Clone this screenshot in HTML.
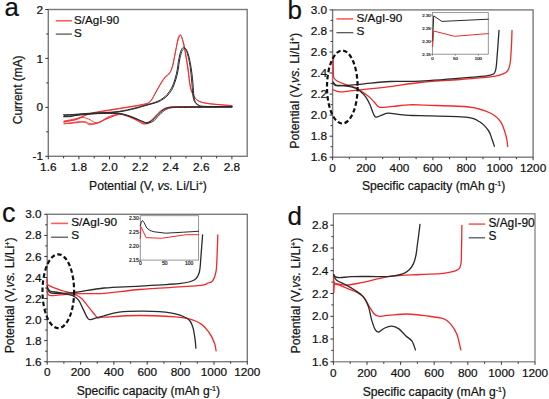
<!DOCTYPE html>
<html><head><meta charset="utf-8"><style>
html,body{margin:0;padding:0;background:#fff;width:549px;height:399px;overflow:hidden}
svg{display:block}
text{font-family:"Liberation Sans", sans-serif;fill:#111;stroke:#111;stroke-width:0.22px}
</style></head><body>
<svg width="549" height="399" viewBox="0 0 549 399">
<rect width="549" height="399" fill="#fff"/>
<rect x="48.3" y="9.5" width="198.9" height="146.8" fill="none" stroke="#7a7a7a" stroke-width="1.4"/>
<line x1="48.3" y1="156.3" x2="48.3" y2="159.3" stroke="#333" stroke-width="1"/>
<line x1="78.9" y1="156.3" x2="78.9" y2="159.3" stroke="#333" stroke-width="1"/>
<line x1="109.5" y1="156.3" x2="109.5" y2="159.3" stroke="#333" stroke-width="1"/>
<line x1="140.1" y1="156.3" x2="140.1" y2="159.3" stroke="#333" stroke-width="1"/>
<line x1="170.7" y1="156.3" x2="170.7" y2="159.3" stroke="#333" stroke-width="1"/>
<line x1="201.3" y1="156.3" x2="201.3" y2="159.3" stroke="#333" stroke-width="1"/>
<line x1="231.9" y1="156.3" x2="231.9" y2="159.3" stroke="#333" stroke-width="1"/>
<line x1="63.6" y1="156.3" x2="63.6" y2="158.3" stroke="#333" stroke-width="1"/>
<line x1="94.2" y1="156.3" x2="94.2" y2="158.3" stroke="#333" stroke-width="1"/>
<line x1="124.8" y1="156.3" x2="124.8" y2="158.3" stroke="#333" stroke-width="1"/>
<line x1="155.4" y1="156.3" x2="155.4" y2="158.3" stroke="#333" stroke-width="1"/>
<line x1="186.0" y1="156.3" x2="186.0" y2="158.3" stroke="#333" stroke-width="1"/>
<line x1="216.6" y1="156.3" x2="216.6" y2="158.3" stroke="#333" stroke-width="1"/>
<text x="48.30" y="170.80" font-size="11.8" text-anchor="middle" >1.6</text>
<text x="78.90" y="170.80" font-size="11.8" text-anchor="middle" >1.8</text>
<text x="109.50" y="170.80" font-size="11.8" text-anchor="middle" >2.0</text>
<text x="140.10" y="170.80" font-size="11.8" text-anchor="middle" >2.2</text>
<text x="170.70" y="170.80" font-size="11.8" text-anchor="middle" >2.4</text>
<text x="201.30" y="170.80" font-size="11.8" text-anchor="middle" >2.6</text>
<text x="231.90" y="170.80" font-size="11.8" text-anchor="middle" >2.8</text>
<line x1="45.3" y1="156.3" x2="48.3" y2="156.3" stroke="#333" stroke-width="1"/>
<line x1="45.3" y1="107.4" x2="48.3" y2="107.4" stroke="#333" stroke-width="1"/>
<line x1="45.3" y1="58.4" x2="48.3" y2="58.4" stroke="#333" stroke-width="1"/>
<line x1="45.3" y1="9.5" x2="48.3" y2="9.5" stroke="#333" stroke-width="1"/>
<line x1="46.3" y1="131.8" x2="48.3" y2="131.8" stroke="#333" stroke-width="1"/>
<line x1="46.3" y1="82.9" x2="48.3" y2="82.9" stroke="#333" stroke-width="1"/>
<line x1="46.3" y1="34.0" x2="48.3" y2="34.0" stroke="#333" stroke-width="1"/>
<text x="43.10" y="160.40" font-size="11.8" text-anchor="end" >-1</text>
<text x="43.10" y="111.47" font-size="11.8" text-anchor="end" >0</text>
<text x="43.10" y="62.53" font-size="11.8" text-anchor="end" >1</text>
<text x="43.10" y="13.60" font-size="11.8" text-anchor="end" >2</text>
<text x="148.00" y="189.80" font-size="12.15" text-anchor="middle" >Potential (V, <tspan font-style='italic'>vs.</tspan> Li/Li<tspan font-size="7.2" dy="-3.6">+</tspan><tspan dy="3.6">)</tspan></text>
<text x="0" y="0" font-size="11.9" text-anchor="middle" transform="translate(21.6,89.8) rotate(-90)">Current (mA)</text>
<text x="4.60" y="16.00" font-size="25.8" text-anchor="start" >a</text>
<line x1="55.8" y1="20.8" x2="71.9" y2="20.8" stroke="#ff5c5c" stroke-width="1.6"/>
<line x1="55.8" y1="34.1" x2="71.9" y2="34.1" stroke="#4a4a4a" stroke-width="1.2"/>
<text x="74.00" y="23.60" font-size="11.6" text-anchor="start" >S/AgI-90</text>
<text x="74.00" y="37.20" font-size="11.6" text-anchor="start" >S</text>
<path d="M64.0,122.0 C65.3,121.7 69.3,121.0 72.0,120.3 C74.7,119.6 76.8,119.1 79.9,118.0 C83.0,116.9 85.0,115.1 90.8,113.7 C96.6,112.3 108.5,110.6 115.0,109.5 C121.5,108.4 125.7,107.7 130.0,107.0 C134.3,106.3 138.2,105.8 141.0,105.3 C143.8,104.8 145.1,104.6 146.8,103.8 C148.5,103.0 149.8,102.3 151.3,100.4 C152.8,98.5 154.3,95.1 155.8,92.5 C157.3,89.9 158.8,87.1 160.3,84.7 C161.8,82.3 163.5,79.5 164.8,77.9 C166.1,76.3 167.3,76.1 168.2,75.1 C169.1,74.1 169.6,73.5 170.3,72.0 C171.0,70.5 171.8,68.8 172.5,66.4 C173.2,64.0 173.8,60.7 174.4,57.6 C175.0,54.5 175.7,50.9 176.3,47.6 C176.9,44.3 177.6,40.2 178.2,38.0 C178.8,35.8 179.5,34.6 180.1,34.6 C180.7,34.6 181.3,36.0 182.0,38.0 C182.7,40.0 183.7,43.0 184.4,46.3 C185.1,49.6 185.7,53.8 186.3,57.6 C186.9,61.4 187.6,65.0 188.2,68.9 C188.8,72.9 189.1,77.7 189.6,81.3 C190.1,84.9 190.5,87.6 191.3,90.3 C192.1,93.0 193.3,95.4 194.6,97.3 C195.9,99.2 196.8,100.3 199.1,101.4 C201.4,102.5 205.2,103.2 208.2,103.7 C211.2,104.2 213.4,104.2 217.3,104.6 C221.2,105.0 229.5,105.7 231.9,105.9" fill="none" stroke="#f2282a" stroke-width="0.9" stroke-linejoin="round" stroke-linecap="round" />
<path d="M64.0,121.0 C66.4,120.5 73.7,119.4 78.2,118.1 C82.7,116.8 84.7,114.7 90.8,113.2 C96.9,111.7 108.5,110.1 115.0,109.0 C121.5,107.9 124.7,107.5 130.0,106.6 C135.3,105.7 143.2,104.5 146.8,103.4 C150.4,102.3 149.8,101.9 151.3,100.0 C152.8,98.1 154.3,94.7 155.8,92.0 C157.3,89.3 158.8,86.5 160.3,84.0 C161.8,81.5 163.4,78.9 164.8,77.2 C166.2,75.5 167.5,75.1 168.5,74.0 C169.5,72.9 170.2,72.2 171.0,70.5 C171.8,68.8 172.3,66.8 173.0,64.0 C173.7,61.2 174.2,57.7 175.0,54.0 C175.8,50.3 176.7,45.0 177.5,42.0 C178.3,39.0 179.0,36.9 179.7,36.0 C180.4,35.1 180.9,35.2 181.5,36.5 C182.1,37.8 182.8,40.8 183.5,44.0 C184.2,47.2 185.1,51.8 185.8,56.0 C186.5,60.2 187.2,64.8 187.8,69.0 C188.4,73.2 188.8,77.5 189.3,81.0 C189.8,84.5 190.2,87.4 191.0,90.0 C191.8,92.6 193.0,95.0 194.3,96.8 C195.6,98.6 196.7,99.9 199.0,101.0 C201.3,102.1 202.7,102.6 208.2,103.4 C213.7,104.2 227.9,105.2 231.9,105.6" fill="none" stroke="#f2282a" stroke-width="0.9" stroke-linejoin="round" stroke-linecap="round" />
<path d="M231.9,106.5 C226.6,106.5 208.7,106.6 200.0,106.6 C191.3,106.6 184.7,106.7 180.0,106.7 C175.3,106.8 174.2,106.8 172.0,106.9 C169.8,107.1 168.4,107.2 167.0,107.6 C165.6,107.9 164.7,108.3 163.5,109.0 C162.3,109.7 161.4,110.2 160.0,111.5 C158.6,112.8 156.7,114.8 155.0,116.5 C153.3,118.2 151.5,120.3 150.0,121.5 C148.5,122.7 147.2,123.2 146.0,123.5 C144.8,123.8 144.8,124.0 143.0,123.2 C141.2,122.5 138.0,120.4 135.0,119.0 C132.0,117.6 127.8,115.8 125.0,115.0 C122.2,114.2 120.8,114.0 118.0,114.3 C115.2,114.6 111.0,115.7 108.0,117.0 C105.0,118.3 102.2,121.1 100.0,122.0 C97.8,122.9 96.9,123.0 95.0,122.5 C93.1,122.0 90.7,119.8 88.5,119.0 C86.3,118.2 84.2,117.3 82.0,117.5 C79.8,117.7 78.0,119.3 75.0,120.0 C72.0,120.7 65.8,121.2 64.0,121.5" fill="none" stroke="#f2282a" stroke-width="0.9" stroke-linejoin="round" stroke-linecap="round" />
<path d="M231.9,106.5 C226.6,106.5 208.7,106.5 200.0,106.6 C191.3,106.6 184.8,106.7 180.0,106.8 C175.2,106.9 173.3,106.9 171.0,107.1 C168.7,107.3 167.4,107.7 166.0,108.2 C164.6,108.7 163.7,109.3 162.5,110.0 C161.3,110.7 160.4,111.2 159.0,112.5 C157.6,113.8 155.7,116.3 154.0,118.0 C152.3,119.7 150.4,121.8 149.0,122.8 C147.6,123.8 146.7,123.9 145.5,124.0 C144.3,124.1 143.8,124.2 142.0,123.5 C140.2,122.8 137.8,120.8 135.0,119.5 C132.2,118.2 127.8,116.3 125.0,115.5 C122.2,114.7 121.5,113.8 118.0,114.6 C114.5,115.3 107.7,118.5 104.0,120.0 C100.3,121.5 98.5,122.7 96.0,123.5 C93.5,124.3 91.0,124.9 89.2,124.7 C87.5,124.5 87.3,123.0 85.5,122.5 C83.7,122.0 81.8,121.5 78.2,121.8 C74.6,122.0 66.4,123.6 64.0,124.0" fill="none" stroke="#f2282a" stroke-width="0.9" stroke-linejoin="round" stroke-linecap="round" />
<path d="M118.0,114.4 C116.0,115.2 109.3,117.6 106.0,119.0 C102.7,120.4 100.7,122.2 98.0,123.0 C95.3,123.8 92.1,123.9 90.0,123.7 C87.9,123.5 87.5,122.0 85.5,121.8 C83.5,121.6 80.6,122.2 78.0,122.5 C75.4,122.8 72.3,123.4 70.0,123.5 C67.7,123.6 65.0,123.1 64.0,123.0" fill="none" stroke="#f2282a" stroke-width="0.9" stroke-linejoin="round" stroke-linecap="round" />
<path d="M64.0,115.5 C68.5,115.2 82.0,114.2 91.0,113.5 C100.0,112.8 110.7,112.4 118.0,111.5 C125.3,110.6 130.5,109.0 135.0,108.0 C139.5,107.0 142.2,106.0 145.0,105.2 C147.8,104.4 149.8,104.0 152.0,103.3 C154.2,102.6 156.2,102.0 158.0,101.2 C159.8,100.4 161.5,99.3 163.0,98.2 C164.5,97.1 165.7,96.1 167.1,94.4 C168.5,92.7 170.3,90.6 171.6,88.0 C172.9,85.4 174.1,82.0 175.0,79.0 C175.9,76.0 176.6,73.0 177.2,70.0 C177.8,67.0 177.8,64.4 178.4,61.3 C179.0,58.2 179.9,53.6 180.7,51.3 C181.5,49.0 182.4,47.9 183.2,47.4 C184.0,46.9 184.6,47.6 185.3,48.5 C186.0,49.4 186.5,50.6 187.2,53.0 C187.9,55.4 188.9,59.3 189.5,62.6 C190.1,65.9 190.5,69.5 190.9,73.0 C191.3,76.5 191.6,79.7 191.9,83.5 C192.2,87.3 192.6,93.0 193.0,96.0 C193.4,99.0 193.8,100.1 194.5,101.5 C195.2,102.9 195.8,103.8 197.3,104.6 C198.8,105.4 197.9,106.0 203.7,106.3 C209.5,106.6 227.2,106.5 231.9,106.6" fill="none" stroke="#2a2a2a" stroke-width="1.0" stroke-linejoin="round" stroke-linecap="round" />
<path d="M64.0,116.7 C68.5,116.2 82.0,114.8 91.0,114.0 C100.0,113.2 110.7,112.9 118.0,112.0 C125.3,111.1 130.5,109.6 135.0,108.6 C139.5,107.5 142.2,106.5 145.0,105.7 C147.8,104.9 149.8,104.5 152.0,103.8 C154.2,103.1 156.5,102.7 158.5,101.8 C160.5,100.9 162.4,99.7 164.0,98.6 C165.6,97.5 166.6,96.7 168.0,95.0 C169.4,93.3 171.2,91.2 172.5,88.5 C173.8,85.8 175.0,82.2 176.0,79.0 C177.0,75.8 177.7,72.2 178.3,69.0 C178.9,65.8 179.0,62.9 179.6,60.0 C180.2,57.1 181.0,53.4 181.8,51.5 C182.6,49.6 183.5,48.8 184.3,48.5 C185.1,48.2 185.8,48.9 186.5,50.0 C187.2,51.1 187.8,52.7 188.5,55.0 C189.2,57.3 189.9,60.8 190.5,64.0 C191.1,67.2 191.6,70.7 192.0,74.0 C192.4,77.3 192.7,80.2 193.0,84.0 C193.3,87.8 193.6,93.5 194.0,96.5 C194.4,99.5 194.8,100.8 195.5,102.2 C196.2,103.6 197.1,104.3 198.5,105.0 C199.9,105.7 198.4,106.3 204.0,106.6 C209.6,106.9 227.2,106.8 231.9,106.8" fill="none" stroke="#2a2a2a" stroke-width="1.0" stroke-linejoin="round" stroke-linecap="round" />
<path d="M231.9,106.8 C226.6,106.8 208.7,106.9 200.0,106.9 C191.3,106.9 184.7,107.0 180.0,107.0 C175.3,107.0 174.1,107.0 172.0,107.2 C169.9,107.4 168.9,107.5 167.5,107.9 C166.1,108.3 164.8,109.0 163.5,109.8 C162.2,110.6 161.2,111.6 160.0,112.6 C158.8,113.6 157.7,114.8 156.5,116.0 C155.3,117.2 154.6,118.7 153.0,119.8 C151.4,120.9 148.7,122.2 147.0,122.5 C145.3,122.8 145.0,122.2 143.0,121.5 C141.0,120.8 138.0,119.2 135.0,118.0 C132.0,116.8 128.3,115.3 125.0,114.5 C121.7,113.7 120.7,113.2 115.0,113.0 C109.3,112.8 98.3,112.9 91.0,113.2 C83.7,113.5 75.5,114.4 70.9,114.6 C66.3,114.8 64.8,114.5 63.6,114.5" fill="none" stroke="#2a2a2a" stroke-width="1.0" stroke-linejoin="round" stroke-linecap="round" />
<path d="M231.9,107.2 C226.6,107.2 208.7,107.3 200.0,107.3 C191.3,107.3 184.5,107.4 180.0,107.4 C175.5,107.5 174.9,107.4 173.0,107.6 C171.1,107.8 169.9,107.9 168.5,108.4 C167.1,108.9 165.8,109.6 164.5,110.4 C163.2,111.2 162.2,112.2 161.0,113.3 C159.8,114.4 158.7,115.6 157.5,116.8 C156.3,118.0 155.6,119.6 154.0,120.7 C152.4,121.8 149.8,123.0 148.0,123.2 C146.2,123.5 145.7,123.0 143.5,122.2 C141.3,121.4 138.1,119.8 135.0,118.6 C131.9,117.4 128.3,115.8 125.0,115.0 C121.7,114.2 120.7,113.7 115.0,113.5 C109.3,113.3 97.2,113.6 91.0,113.8 C84.8,114.0 81.3,114.3 78.0,114.8 C74.7,115.3 73.3,116.3 70.9,116.6 C68.5,116.9 64.8,116.7 63.6,116.7" fill="none" stroke="#2a2a2a" stroke-width="1.0" stroke-linejoin="round" stroke-linecap="round" />
<rect x="332.6" y="9.9" width="200.5" height="147.3" fill="none" stroke="#7a7a7a" stroke-width="1.4"/>
<line x1="332.6" y1="157.2" x2="332.6" y2="160.2" stroke="#333" stroke-width="1"/>
<line x1="366.0" y1="157.2" x2="366.0" y2="160.2" stroke="#333" stroke-width="1"/>
<line x1="399.4" y1="157.2" x2="399.4" y2="160.2" stroke="#333" stroke-width="1"/>
<line x1="432.9" y1="157.2" x2="432.9" y2="160.2" stroke="#333" stroke-width="1"/>
<line x1="466.3" y1="157.2" x2="466.3" y2="160.2" stroke="#333" stroke-width="1"/>
<line x1="499.7" y1="157.2" x2="499.7" y2="160.2" stroke="#333" stroke-width="1"/>
<line x1="533.1" y1="157.2" x2="533.1" y2="160.2" stroke="#333" stroke-width="1"/>
<line x1="349.3" y1="157.2" x2="349.3" y2="159.2" stroke="#333" stroke-width="1"/>
<line x1="382.7" y1="157.2" x2="382.7" y2="159.2" stroke="#333" stroke-width="1"/>
<line x1="416.1" y1="157.2" x2="416.1" y2="159.2" stroke="#333" stroke-width="1"/>
<line x1="449.6" y1="157.2" x2="449.6" y2="159.2" stroke="#333" stroke-width="1"/>
<line x1="483.0" y1="157.2" x2="483.0" y2="159.2" stroke="#333" stroke-width="1"/>
<line x1="516.4" y1="157.2" x2="516.4" y2="159.2" stroke="#333" stroke-width="1"/>
<text x="332.60" y="171.60" font-size="11.8" text-anchor="middle" >0</text>
<text x="366.02" y="171.60" font-size="11.8" text-anchor="middle" >200</text>
<text x="399.43" y="171.60" font-size="11.8" text-anchor="middle" >400</text>
<text x="432.85" y="171.60" font-size="11.8" text-anchor="middle" >600</text>
<text x="466.27" y="171.60" font-size="11.8" text-anchor="middle" >800</text>
<text x="499.68" y="171.60" font-size="11.8" text-anchor="middle" >1000</text>
<text x="533.10" y="171.60" font-size="11.8" text-anchor="middle" >1200</text>
<line x1="329.6" y1="157.2" x2="332.6" y2="157.2" stroke="#333" stroke-width="1"/>
<line x1="329.6" y1="136.2" x2="332.6" y2="136.2" stroke="#333" stroke-width="1"/>
<line x1="329.6" y1="115.1" x2="332.6" y2="115.1" stroke="#333" stroke-width="1"/>
<line x1="329.6" y1="94.1" x2="332.6" y2="94.1" stroke="#333" stroke-width="1"/>
<line x1="329.6" y1="73.0" x2="332.6" y2="73.0" stroke="#333" stroke-width="1"/>
<line x1="329.6" y1="52.0" x2="332.6" y2="52.0" stroke="#333" stroke-width="1"/>
<line x1="329.6" y1="30.9" x2="332.6" y2="30.9" stroke="#333" stroke-width="1"/>
<line x1="329.6" y1="9.9" x2="332.6" y2="9.9" stroke="#333" stroke-width="1"/>
<line x1="330.6" y1="146.7" x2="332.6" y2="146.7" stroke="#333" stroke-width="1"/>
<line x1="330.6" y1="125.6" x2="332.6" y2="125.6" stroke="#333" stroke-width="1"/>
<line x1="330.6" y1="104.6" x2="332.6" y2="104.6" stroke="#333" stroke-width="1"/>
<line x1="330.6" y1="83.6" x2="332.6" y2="83.6" stroke="#333" stroke-width="1"/>
<line x1="330.6" y1="62.5" x2="332.6" y2="62.5" stroke="#333" stroke-width="1"/>
<line x1="330.6" y1="41.5" x2="332.6" y2="41.5" stroke="#333" stroke-width="1"/>
<line x1="330.6" y1="20.4" x2="332.6" y2="20.4" stroke="#333" stroke-width="1"/>
<text x="327.20" y="161.30" font-size="11.8" text-anchor="end" >1.6</text>
<text x="327.20" y="140.26" font-size="11.8" text-anchor="end" >1.8</text>
<text x="327.20" y="119.21" font-size="11.8" text-anchor="end" >2.0</text>
<text x="327.20" y="98.17" font-size="11.8" text-anchor="end" >2.2</text>
<text x="327.20" y="77.13" font-size="11.8" text-anchor="end" >2.4</text>
<text x="327.20" y="56.09" font-size="11.8" text-anchor="end" >2.6</text>
<text x="327.20" y="35.04" font-size="11.8" text-anchor="end" >2.8</text>
<text x="327.20" y="14.00" font-size="11.8" text-anchor="end" >3.0</text>
<text x="433.60" y="189.80" font-size="12.15" text-anchor="middle" >Specific capacity (mAh g<tspan font-size="7.2" dy="-3.6">-1</tspan><tspan dy="3.6">)</tspan></text>
<text x="0" y="0" font-size="12.3" text-anchor="middle" transform="translate(298.9,90.8) rotate(-90)">Potential (V,<tspan font-style='italic'>vs.</tspan> Li/Li<tspan font-size="7.2" dy="-3.6">+</tspan><tspan dy="3.6">)</tspan></text>
<text x="287.50" y="18.80" font-size="26" text-anchor="start" >b</text>
<line x1="336.4" y1="18.900000000000002" x2="353.3" y2="18.900000000000002" stroke="#ff5c5c" stroke-width="1.6"/>
<line x1="336.4" y1="32.7" x2="353.3" y2="32.7" stroke="#4a4a4a" stroke-width="1.2"/>
<text x="356.40" y="21.70" font-size="11.8" text-anchor="start" >S/AgI-90</text>
<text x="356.40" y="35.40" font-size="11.8" text-anchor="start" >S</text>
<path d="M333.0,89.6 C333.5,89.8 334.8,90.6 336.0,91.0 C337.2,91.4 338.2,91.8 340.5,91.8 C342.8,91.8 346.8,91.2 350.0,90.9 C353.2,90.6 353.3,90.6 360.0,89.9 C366.7,89.2 380.0,87.8 390.0,86.6 C400.0,85.4 408.3,83.7 420.0,82.5 C431.7,81.3 448.3,80.5 460.0,79.5 C471.7,78.5 483.5,77.5 490.2,76.8 C496.9,76.0 497.4,75.7 500.0,75.0 C502.6,74.3 504.5,73.8 506.0,72.6 C507.5,71.4 508.2,70.1 509.0,68.0 C509.8,65.9 510.1,63.8 510.5,60.0 C510.9,56.2 511.2,49.9 511.5,45.0 C511.8,40.1 511.9,32.9 512.0,30.5" fill="none" stroke="#f2282a" stroke-width="1.3" stroke-linejoin="round" stroke-linecap="round" />
<path d="M333.2,58.0 C333.2,60.0 333.2,66.7 333.3,70.0 C333.4,73.3 333.1,75.7 333.8,77.6 C334.5,79.5 335.6,80.2 337.5,81.3 C339.4,82.4 342.5,83.4 345.0,84.3 C347.5,85.2 350.1,85.6 352.6,86.6 C355.1,87.6 357.3,88.6 360.0,90.3 C362.7,92.0 366.3,94.6 368.7,96.6 C371.1,98.5 372.4,100.2 374.2,102.0 C376.0,103.8 376.6,106.6 379.7,107.3 C382.8,108.0 387.9,106.8 392.8,106.4 C397.7,106.0 403.8,105.0 409.2,104.8 C414.6,104.6 415.3,104.8 425.3,105.2 C435.3,105.6 458.3,105.7 469.1,107.0 C479.9,108.3 484.9,110.5 490.2,113.0 C495.5,115.5 498.1,118.0 500.7,121.8 C503.3,125.6 504.8,131.7 506.0,135.8 C507.2,139.9 507.4,144.6 507.7,146.3" fill="none" stroke="#f2282a" stroke-width="1.3" stroke-linejoin="round" stroke-linecap="round" />
<path d="M333.0,83.0 C333.3,83.4 334.0,84.7 335.0,85.2 C336.0,85.7 334.8,86.0 339.0,85.8 C343.2,85.6 351.5,85.0 360.0,84.3 C368.5,83.6 380.0,82.0 390.0,81.5 C400.0,81.0 406.2,81.9 420.0,81.2 C433.8,80.5 460.9,78.2 472.6,77.2 C484.3,76.2 486.4,76.1 490.2,75.1 C494.0,74.0 494.2,74.2 495.4,70.9 C496.6,67.6 496.6,61.8 497.2,55.1 C497.8,48.4 498.7,34.6 499.0,30.5" fill="none" stroke="#2a2a2a" stroke-width="1.3" stroke-linejoin="round" stroke-linecap="round" />
<path d="M333.0,82.0 C333.5,82.5 334.0,84.4 336.0,85.0 C338.0,85.6 341.7,85.3 345.0,85.8 C348.3,86.3 353.1,87.2 355.6,88.1 C358.1,89.0 358.4,89.7 360.0,91.1 C361.6,92.5 363.9,94.4 365.5,96.6 C367.1,98.8 368.5,101.5 369.8,104.2 C371.1,106.9 372.1,110.8 373.1,113.0 C374.1,115.2 374.3,116.8 375.8,117.1 C377.3,117.4 379.8,115.8 381.9,115.1 C384.0,114.4 385.7,113.3 388.4,113.2 C391.1,113.1 394.8,113.9 398.3,114.3 C401.8,114.7 405.6,115.2 409.2,115.4 C412.8,115.6 410.6,115.4 420.0,115.7 C429.4,116.0 455.7,116.2 465.6,117.2 C475.5,118.2 475.8,119.6 479.6,121.8 C483.4,124.0 486.3,127.6 488.4,130.5 C490.5,133.4 491.0,136.7 492.0,139.3 C493.0,141.9 494.0,145.1 494.4,146.3" fill="none" stroke="#2a2a2a" stroke-width="1.3" stroke-linejoin="round" stroke-linecap="round" />
<ellipse cx="342.3" cy="87" rx="15.3" ry="36.5" fill="none" stroke="#111" stroke-width="2.2" stroke-dasharray="4.5,2.6"/>
<rect x="432.4" y="12.6" width="55.9" height="41.6" fill="#fff" stroke="#8a8a8a" stroke-width="0.9"/>
<line x1="430.9" y1="54.2" x2="432.4" y2="54.2" stroke="#555" stroke-width="0.6"/>
<text x="430.80" y="55.70" font-size="4.4" text-anchor="end" style="stroke:#222;stroke-width:0.2px;fill:#222">2.15</text>
<line x1="430.9" y1="41.2" x2="432.4" y2="41.2" stroke="#555" stroke-width="0.6"/>
<text x="430.80" y="42.70" font-size="4.4" text-anchor="end" style="stroke:#222;stroke-width:0.2px;fill:#222">2.20</text>
<line x1="430.9" y1="28.2" x2="432.4" y2="28.2" stroke="#555" stroke-width="0.6"/>
<text x="430.80" y="29.70" font-size="4.4" text-anchor="end" style="stroke:#222;stroke-width:0.2px;fill:#222">2.25</text>
<line x1="430.9" y1="15.2" x2="432.4" y2="15.2" stroke="#555" stroke-width="0.6"/>
<text x="430.80" y="16.70" font-size="4.4" text-anchor="end" style="stroke:#222;stroke-width:0.2px;fill:#222">2.30</text>
<line x1="432.4" y1="54.2" x2="432.4" y2="55.7" stroke="#555" stroke-width="0.6"/>
<text x="432.40" y="59.60" font-size="4.4" text-anchor="middle" style="stroke:#222;stroke-width:0.2px;fill:#222">0</text>
<line x1="455.4" y1="54.2" x2="455.4" y2="55.7" stroke="#555" stroke-width="0.6"/>
<text x="455.39" y="59.60" font-size="4.4" text-anchor="middle" style="stroke:#222;stroke-width:0.2px;fill:#222">50</text>
<line x1="478.4" y1="54.2" x2="478.4" y2="55.7" stroke="#555" stroke-width="0.6"/>
<text x="478.37" y="59.60" font-size="4.4" text-anchor="middle" style="stroke:#222;stroke-width:0.2px;fill:#222">100</text>
<path d="M432.6,41.0 L433.7,15.9 L441.9,21.4 L488.3,19.2" fill="none" stroke="#2a2a2a" stroke-width="1.0" stroke-linejoin="round" stroke-linecap="round" />
<path d="M432.6,46.5 L433.7,31.0 L454.6,36.3 L488.3,33.6" fill="none" stroke="#f2282a" stroke-width="1.0" stroke-linejoin="round" stroke-linecap="round" />
<rect x="47.2" y="214.3" width="200.1" height="147.4" fill="none" stroke="#7a7a7a" stroke-width="1.4"/>
<line x1="47.2" y1="361.7" x2="47.2" y2="364.7" stroke="#333" stroke-width="1"/>
<line x1="80.6" y1="361.7" x2="80.6" y2="364.7" stroke="#333" stroke-width="1"/>
<line x1="113.9" y1="361.7" x2="113.9" y2="364.7" stroke="#333" stroke-width="1"/>
<line x1="147.2" y1="361.7" x2="147.2" y2="364.7" stroke="#333" stroke-width="1"/>
<line x1="180.6" y1="361.7" x2="180.6" y2="364.7" stroke="#333" stroke-width="1"/>
<line x1="214.0" y1="361.7" x2="214.0" y2="364.7" stroke="#333" stroke-width="1"/>
<line x1="247.3" y1="361.7" x2="247.3" y2="364.7" stroke="#333" stroke-width="1"/>
<line x1="63.9" y1="361.7" x2="63.9" y2="363.7" stroke="#333" stroke-width="1"/>
<line x1="97.2" y1="361.7" x2="97.2" y2="363.7" stroke="#333" stroke-width="1"/>
<line x1="130.6" y1="361.7" x2="130.6" y2="363.7" stroke="#333" stroke-width="1"/>
<line x1="163.9" y1="361.7" x2="163.9" y2="363.7" stroke="#333" stroke-width="1"/>
<line x1="197.3" y1="361.7" x2="197.3" y2="363.7" stroke="#333" stroke-width="1"/>
<line x1="230.6" y1="361.7" x2="230.6" y2="363.7" stroke="#333" stroke-width="1"/>
<text x="47.20" y="376.20" font-size="11.8" text-anchor="middle" >0</text>
<text x="80.55" y="376.20" font-size="11.8" text-anchor="middle" >200</text>
<text x="113.90" y="376.20" font-size="11.8" text-anchor="middle" >400</text>
<text x="147.25" y="376.20" font-size="11.8" text-anchor="middle" >600</text>
<text x="180.60" y="376.20" font-size="11.8" text-anchor="middle" >800</text>
<text x="213.95" y="376.20" font-size="11.8" text-anchor="middle" >1000</text>
<text x="247.30" y="376.20" font-size="11.8" text-anchor="middle" >1200</text>
<line x1="44.2" y1="361.7" x2="47.2" y2="361.7" stroke="#333" stroke-width="1"/>
<line x1="44.2" y1="340.6" x2="47.2" y2="340.6" stroke="#333" stroke-width="1"/>
<line x1="44.2" y1="319.6" x2="47.2" y2="319.6" stroke="#333" stroke-width="1"/>
<line x1="44.2" y1="298.5" x2="47.2" y2="298.5" stroke="#333" stroke-width="1"/>
<line x1="44.2" y1="277.5" x2="47.2" y2="277.5" stroke="#333" stroke-width="1"/>
<line x1="44.2" y1="256.4" x2="47.2" y2="256.4" stroke="#333" stroke-width="1"/>
<line x1="44.2" y1="235.4" x2="47.2" y2="235.4" stroke="#333" stroke-width="1"/>
<line x1="44.2" y1="214.3" x2="47.2" y2="214.3" stroke="#333" stroke-width="1"/>
<line x1="45.2" y1="351.2" x2="47.2" y2="351.2" stroke="#333" stroke-width="1"/>
<line x1="45.2" y1="330.1" x2="47.2" y2="330.1" stroke="#333" stroke-width="1"/>
<line x1="45.2" y1="309.1" x2="47.2" y2="309.1" stroke="#333" stroke-width="1"/>
<line x1="45.2" y1="288.0" x2="47.2" y2="288.0" stroke="#333" stroke-width="1"/>
<line x1="45.2" y1="266.9" x2="47.2" y2="266.9" stroke="#333" stroke-width="1"/>
<line x1="45.2" y1="245.9" x2="47.2" y2="245.9" stroke="#333" stroke-width="1"/>
<line x1="45.2" y1="224.8" x2="47.2" y2="224.8" stroke="#333" stroke-width="1"/>
<text x="41.60" y="365.80" font-size="11.8" text-anchor="end" >1.6</text>
<text x="41.60" y="344.74" font-size="11.8" text-anchor="end" >1.8</text>
<text x="41.60" y="323.69" font-size="11.8" text-anchor="end" >2.0</text>
<text x="41.60" y="302.63" font-size="11.8" text-anchor="end" >2.2</text>
<text x="41.60" y="281.57" font-size="11.8" text-anchor="end" >2.4</text>
<text x="41.60" y="260.51" font-size="11.8" text-anchor="end" >2.6</text>
<text x="41.60" y="239.46" font-size="11.8" text-anchor="end" >2.8</text>
<text x="41.60" y="218.40" font-size="11.8" text-anchor="end" >3.0</text>
<text x="148.40" y="394.70" font-size="12.15" text-anchor="middle" >Specific capacity (mAh g<tspan font-size="7.2" dy="-3.6">-1</tspan><tspan dy="3.6">)</tspan></text>
<text x="0" y="0" font-size="12.3" text-anchor="middle" transform="translate(13.5,295.4) rotate(-90)">Potential (V,<tspan font-style='italic'>vs.</tspan> Li/Li<tspan font-size="7.2" dy="-3.6">+</tspan><tspan dy="3.6">)</tspan></text>
<text x="2.00" y="221.70" font-size="27" text-anchor="start" >c</text>
<line x1="51.1" y1="223.4" x2="68" y2="223.4" stroke="#ff5c5c" stroke-width="1.6"/>
<line x1="51.1" y1="237.2" x2="68" y2="237.2" stroke="#4a4a4a" stroke-width="1.2"/>
<text x="71.20" y="226.20" font-size="11.8" text-anchor="start" >S/AgI-90</text>
<text x="71.20" y="239.40" font-size="11.8" text-anchor="start" >S</text>
<path d="M47.0,291.0 C47.2,291.6 47.5,294.0 48.5,294.8 C49.5,295.6 48.8,295.8 53.0,295.6 C57.2,295.4 65.5,294.2 74.0,293.8 C82.5,293.4 93.0,294.0 104.0,293.3 C115.0,292.6 124.4,290.8 140.0,289.5 C155.6,288.2 186.3,286.8 197.6,285.7 C208.9,284.6 205.5,283.8 208.0,283.0 C210.5,282.2 211.4,282.8 212.8,280.7 C214.2,278.6 215.4,275.6 216.2,270.5 C216.9,265.4 217.0,255.9 217.3,250.0 C217.6,244.1 217.7,237.5 217.8,235.0" fill="none" stroke="#f2282a" stroke-width="1.3" stroke-linejoin="round" stroke-linecap="round" />
<path d="M47.0,279.0 C47.1,279.9 46.9,283.1 47.4,284.3 C47.9,285.5 49.1,285.5 50.0,286.0 C50.9,286.5 50.8,286.5 53.0,287.3 C55.2,288.1 60.0,289.9 63.5,291.0 C67.0,292.1 71.0,292.7 74.0,294.0 C77.0,295.3 79.1,296.3 81.6,298.6 C84.1,300.9 86.8,304.9 89.1,307.6 C91.3,310.4 93.6,313.4 95.1,315.1 C96.6,316.8 96.6,317.5 98.1,317.8 C99.6,318.1 97.0,317.6 104.0,317.2 C111.0,316.8 126.7,315.4 140.0,315.5 C153.3,315.6 173.8,316.4 184.0,317.8 C194.2,319.2 196.7,321.4 200.9,323.9 C205.1,326.4 207.1,329.8 209.4,333.0 C211.7,336.2 213.4,340.2 214.5,343.2 C215.6,346.2 215.8,349.6 216.1,350.9" fill="none" stroke="#f2282a" stroke-width="1.3" stroke-linejoin="round" stroke-linecap="round" />
<path d="M47.0,288.0 C47.5,288.8 48.5,291.7 50.0,292.6 C51.5,293.5 52.0,293.3 56.0,293.3 C60.0,293.3 66.0,293.5 74.0,292.6 C82.0,291.7 93.0,289.1 104.0,288.0 C115.0,286.9 127.2,286.9 140.0,286.1 C152.8,285.3 171.7,284.4 180.7,283.4 C189.7,282.4 191.1,281.9 194.2,280.0 C197.3,278.1 198.2,276.0 199.3,272.2 C200.4,268.4 200.4,263.2 200.9,257.0 C201.4,250.8 202.3,238.7 202.6,235.0" fill="none" stroke="#2a2a2a" stroke-width="1.3" stroke-linejoin="round" stroke-linecap="round" />
<path d="M47.0,285.8 C47.5,286.7 48.0,289.9 50.0,291.0 C52.0,292.1 55.2,291.8 59.0,292.6 C62.8,293.4 69.3,294.4 72.6,295.6 C75.9,296.9 76.8,297.9 78.6,300.1 C80.3,302.4 81.6,306.1 83.1,309.1 C84.6,312.1 86.3,316.4 87.6,318.1 C88.8,319.9 89.1,319.7 90.6,319.6 C92.1,319.6 94.4,318.4 96.6,317.8 C98.8,317.2 100.3,316.8 104.0,315.9 C107.7,314.9 112.4,312.9 119.0,312.1 C125.6,311.3 134.9,311.0 143.5,311.1 C152.1,311.2 163.2,311.6 170.5,312.8 C177.8,314.0 183.7,316.2 187.4,318.5 C191.1,320.8 191.2,323.0 192.5,326.3 C193.8,329.6 194.3,334.5 194.9,338.1 C195.5,341.8 195.7,346.5 195.9,348.2" fill="none" stroke="#2a2a2a" stroke-width="1.3" stroke-linejoin="round" stroke-linecap="round" />
<ellipse cx="58.3" cy="291.2" rx="15.8" ry="36.9" fill="none" stroke="#111" stroke-width="2.2" stroke-dasharray="4.5,2.6"/>
<rect x="140.3" y="215.7" width="58.3" height="44.4" fill="#fff" stroke="#8a8a8a" stroke-width="0.9"/>
<line x1="138.8" y1="260.1" x2="140.3" y2="260.1" stroke="#555" stroke-width="0.6"/>
<text x="138.70" y="261.60" font-size="5.0" text-anchor="end" style="stroke:#222;stroke-width:0.2px;fill:#222">2.15</text>
<line x1="138.8" y1="246.2" x2="140.3" y2="246.2" stroke="#555" stroke-width="0.6"/>
<text x="138.70" y="247.72" font-size="5.0" text-anchor="end" style="stroke:#222;stroke-width:0.2px;fill:#222">2.20</text>
<line x1="138.8" y1="232.3" x2="140.3" y2="232.3" stroke="#555" stroke-width="0.6"/>
<text x="138.70" y="233.85" font-size="5.0" text-anchor="end" style="stroke:#222;stroke-width:0.2px;fill:#222">2.25</text>
<line x1="138.8" y1="218.5" x2="140.3" y2="218.5" stroke="#555" stroke-width="0.6"/>
<text x="138.70" y="219.98" font-size="5.0" text-anchor="end" style="stroke:#222;stroke-width:0.2px;fill:#222">2.30</text>
<line x1="140.3" y1="260.1" x2="140.3" y2="261.6" stroke="#555" stroke-width="0.6"/>
<text x="140.30" y="265.10" font-size="5.0" text-anchor="middle" style="stroke:#222;stroke-width:0.2px;fill:#222">0</text>
<line x1="164.7" y1="260.1" x2="164.7" y2="261.6" stroke="#555" stroke-width="0.6"/>
<text x="164.69" y="265.10" font-size="5.0" text-anchor="middle" style="stroke:#222;stroke-width:0.2px;fill:#222">50</text>
<line x1="189.1" y1="260.1" x2="189.1" y2="261.6" stroke="#555" stroke-width="0.6"/>
<text x="189.09" y="265.10" font-size="5.0" text-anchor="middle" style="stroke:#222;stroke-width:0.2px;fill:#222">100</text>
<path d="M140.3,226.0 L141.3,222.0 L142.5,220.5 L144.0,222.5 L146.9,228.1 L150.0,230.5 L154.2,231.8 L165.8,233.2 L183.3,232.2 L198.6,231.3" fill="none" stroke="#2a2a2a" stroke-width="1.0" stroke-linejoin="round" stroke-linecap="round" />
<path d="M140.3,238.3 L140.6,231.0 L141.0,226.7 L143.5,232.0 L146.1,237.6 L161.4,238.3 L186.2,234.7 L198.6,234.7" fill="none" stroke="#f2282a" stroke-width="1.0" stroke-linejoin="round" stroke-linecap="round" />
<rect x="333.4" y="213.8" width="201.6" height="148.0" fill="none" stroke="#7a7a7a" stroke-width="1.2"/>
<line x1="333.4" y1="361.8" x2="333.4" y2="364.8" stroke="#333" stroke-width="1"/>
<line x1="367.0" y1="361.8" x2="367.0" y2="364.8" stroke="#333" stroke-width="1"/>
<line x1="400.6" y1="361.8" x2="400.6" y2="364.8" stroke="#333" stroke-width="1"/>
<line x1="434.2" y1="361.8" x2="434.2" y2="364.8" stroke="#333" stroke-width="1"/>
<line x1="467.8" y1="361.8" x2="467.8" y2="364.8" stroke="#333" stroke-width="1"/>
<line x1="501.4" y1="361.8" x2="501.4" y2="364.8" stroke="#333" stroke-width="1"/>
<line x1="535.0" y1="361.8" x2="535.0" y2="364.8" stroke="#333" stroke-width="1"/>
<line x1="350.2" y1="361.8" x2="350.2" y2="363.8" stroke="#333" stroke-width="1"/>
<line x1="383.8" y1="361.8" x2="383.8" y2="363.8" stroke="#333" stroke-width="1"/>
<line x1="417.4" y1="361.8" x2="417.4" y2="363.8" stroke="#333" stroke-width="1"/>
<line x1="451.0" y1="361.8" x2="451.0" y2="363.8" stroke="#333" stroke-width="1"/>
<line x1="484.6" y1="361.8" x2="484.6" y2="363.8" stroke="#333" stroke-width="1"/>
<line x1="518.2" y1="361.8" x2="518.2" y2="363.8" stroke="#333" stroke-width="1"/>
<text x="333.40" y="376.60" font-size="11.8" text-anchor="middle" >0</text>
<text x="367.00" y="376.60" font-size="11.8" text-anchor="middle" >200</text>
<text x="400.60" y="376.60" font-size="11.8" text-anchor="middle" >400</text>
<text x="434.20" y="376.60" font-size="11.8" text-anchor="middle" >600</text>
<text x="467.80" y="376.60" font-size="11.8" text-anchor="middle" >800</text>
<text x="501.40" y="376.60" font-size="11.8" text-anchor="middle" >1000</text>
<text x="535.00" y="376.60" font-size="11.8" text-anchor="middle" >1200</text>
<line x1="330.4" y1="361.8" x2="333.4" y2="361.8" stroke="#333" stroke-width="1"/>
<line x1="330.4" y1="339.0" x2="333.4" y2="339.0" stroke="#333" stroke-width="1"/>
<line x1="330.4" y1="316.3" x2="333.4" y2="316.3" stroke="#333" stroke-width="1"/>
<line x1="330.4" y1="293.5" x2="333.4" y2="293.5" stroke="#333" stroke-width="1"/>
<line x1="330.4" y1="270.7" x2="333.4" y2="270.7" stroke="#333" stroke-width="1"/>
<line x1="330.4" y1="248.0" x2="333.4" y2="248.0" stroke="#333" stroke-width="1"/>
<line x1="330.4" y1="225.2" x2="333.4" y2="225.2" stroke="#333" stroke-width="1"/>
<line x1="331.4" y1="350.4" x2="333.4" y2="350.4" stroke="#333" stroke-width="1"/>
<line x1="331.4" y1="327.6" x2="333.4" y2="327.6" stroke="#333" stroke-width="1"/>
<line x1="331.4" y1="304.9" x2="333.4" y2="304.9" stroke="#333" stroke-width="1"/>
<line x1="331.4" y1="282.1" x2="333.4" y2="282.1" stroke="#333" stroke-width="1"/>
<line x1="331.4" y1="259.3" x2="333.4" y2="259.3" stroke="#333" stroke-width="1"/>
<line x1="331.4" y1="236.6" x2="333.4" y2="236.6" stroke="#333" stroke-width="1"/>
<text x="328.40" y="365.90" font-size="11.8" text-anchor="end" >1.6</text>
<text x="328.40" y="343.13" font-size="11.8" text-anchor="end" >1.8</text>
<text x="328.40" y="320.36" font-size="11.8" text-anchor="end" >2.0</text>
<text x="328.40" y="297.59" font-size="11.8" text-anchor="end" >2.2</text>
<text x="328.40" y="274.82" font-size="11.8" text-anchor="end" >2.4</text>
<text x="328.40" y="252.05" font-size="11.8" text-anchor="end" >2.6</text>
<text x="328.40" y="229.28" font-size="11.8" text-anchor="end" >2.8</text>
<text x="434.40" y="395.50" font-size="12.15" text-anchor="middle" >Specific capacity (mAh g<tspan font-size="7.2" dy="-3.6">-1</tspan><tspan dy="3.6">)</tspan></text>
<text x="0" y="0" font-size="12.3" text-anchor="middle" transform="translate(299.5,295.6) rotate(-90)">Potential (V,<tspan font-style='italic'>vs.</tspan> Li/Li<tspan font-size="7.2" dy="-3.6">+</tspan><tspan dy="3.6">)</tspan></text>
<text x="287.60" y="224.90" font-size="26" text-anchor="start" >d</text>
<line x1="468.7" y1="224.10000000000002" x2="485.1" y2="224.10000000000002" stroke="#ff5c5c" stroke-width="1.6"/>
<line x1="468.7" y1="237.8" x2="485.1" y2="237.8" stroke="#4a4a4a" stroke-width="1.2"/>
<text x="488.40" y="226.80" font-size="11.9" text-anchor="start" >S/AgI-90</text>
<text x="488.40" y="239.90" font-size="11.9" text-anchor="start" >S</text>
<path d="M333.8,292.8 C333.9,291.5 334.0,286.5 334.3,285.0 C334.6,283.5 333.8,283.6 335.8,283.6 C337.8,283.6 341.9,285.3 346.4,285.1 C350.9,284.9 355.5,283.8 362.8,282.4 C370.1,280.9 380.5,277.7 390.0,276.4 C399.5,275.1 411.1,275.0 420.0,274.5 C428.9,274.0 437.2,274.0 443.3,273.3 C449.4,272.6 454.0,271.7 456.9,270.2 C459.8,268.7 460.0,267.8 460.8,264.4 C461.6,261.0 461.3,256.5 461.5,250.0 C461.7,243.5 461.8,229.6 461.9,225.5" fill="none" stroke="#f2282a" stroke-width="1.3" stroke-linejoin="round" stroke-linecap="round" />
<path d="M333.8,276.4 C333.9,277.5 333.2,281.4 334.4,283.0 C335.6,284.6 338.8,284.8 340.9,285.7 C343.0,286.6 344.6,287.3 347.0,288.3 C349.4,289.3 352.2,290.0 355.0,291.5 C357.8,293.0 361.5,294.9 363.8,297.3 C366.1,299.7 367.2,303.2 369.0,306.0 C370.8,308.8 372.7,312.3 374.3,314.0 C375.9,315.7 377.1,315.9 378.7,316.2 C380.3,316.5 382.1,316.0 384.0,315.8 C385.9,315.6 386.2,315.5 390.1,315.2 C394.0,314.9 401.8,313.9 407.6,314.0 C413.4,314.1 419.1,314.9 425.0,315.7 C430.9,316.5 438.9,317.2 443.3,318.7 C447.7,320.2 448.8,322.0 451.1,324.6 C453.4,327.2 455.3,330.1 456.9,334.3 C458.5,338.5 460.1,347.2 460.8,349.8" fill="none" stroke="#f2282a" stroke-width="1.3" stroke-linejoin="round" stroke-linecap="round" />
<path d="M333.8,274.5 C334.1,274.9 334.5,276.3 335.5,276.8 C336.5,277.3 337.1,277.7 339.8,277.7 C342.5,277.7 346.9,276.8 351.9,276.6 C356.9,276.4 363.6,276.5 370.0,276.5 C376.4,276.5 384.6,276.8 390.0,276.4 C395.4,276.0 399.4,275.0 402.6,273.9 C405.8,272.8 407.2,271.7 409.0,270.0 C410.8,268.3 412.3,266.1 413.5,263.6 C414.7,261.1 415.4,258.0 416.0,255.0 C416.6,252.0 416.6,250.5 417.3,245.4 C418.0,240.3 419.6,227.9 420.0,224.4" fill="none" stroke="#2a2a2a" stroke-width="1.3" stroke-linejoin="round" stroke-linecap="round" />
<path d="M333.8,275.0 C334.3,275.9 334.5,278.5 336.6,280.2 C338.7,281.9 343.3,283.4 346.4,285.1 C349.5,286.8 352.2,288.4 355.0,290.3 C357.8,292.2 360.7,293.8 362.9,296.4 C365.1,299.0 366.7,302.1 368.2,306.0 C369.7,309.9 370.5,316.2 371.7,320.1 C372.9,324.1 374.0,327.7 375.2,329.7 C376.4,331.7 377.1,332.3 378.7,332.0 C380.3,331.7 382.6,329.0 384.8,328.0 C387.0,327.0 389.5,326.1 391.8,326.2 C394.1,326.3 396.5,327.3 398.9,328.9 C401.2,330.5 403.7,333.9 405.9,335.9 C408.1,337.9 410.4,338.8 412.0,341.1 C413.6,343.5 414.9,348.5 415.5,350.0" fill="none" stroke="#2a2a2a" stroke-width="1.3" stroke-linejoin="round" stroke-linecap="round" />
</svg></body></html>
